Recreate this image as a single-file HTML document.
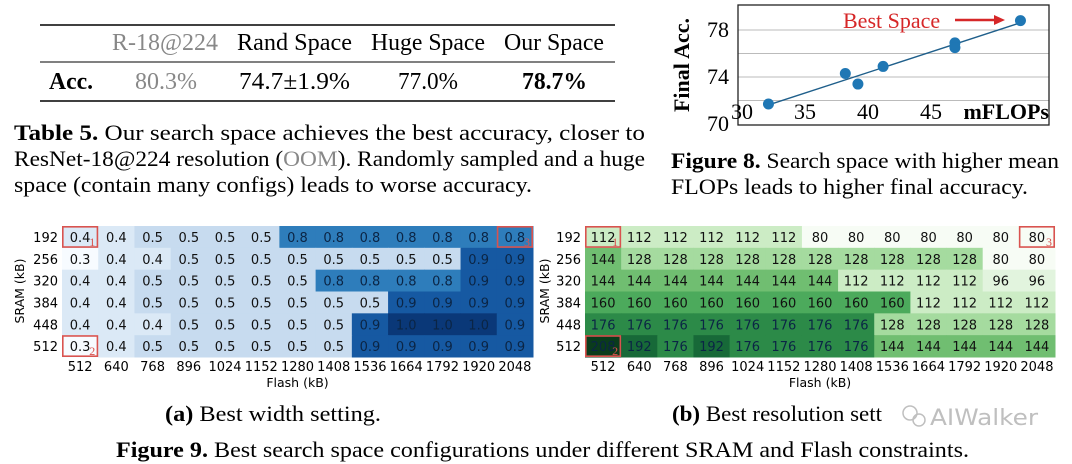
<!DOCTYPE html>
<html><head><meta charset="utf-8"><style>
html,body{margin:0;padding:0;background:#fff}
svg{display:block}
.serif{font-family:"Liberation Serif",serif}
.sans{font-family:"DejaVu Sans",sans-serif}
</style></head><body>
<svg id="root" width="1072" height="464" viewBox="0 0 1072 464" xmlns="http://www.w3.org/2000/svg">
<g class="serif" font-size="24">
<line x1="40" y1="25" x2="615" y2="25" stroke="#000" stroke-width="1.6"/>
<line x1="40" y1="62" x2="615" y2="62" stroke="#000" stroke-width="1"/>
<line x1="40" y1="101" x2="615" y2="101" stroke="#000" stroke-width="1.6"/>
<text x="112" y="50" fill="#888" textLength="106" lengthAdjust="spacingAndGlyphs">R-18@224</text>
<text x="237" y="50" textLength="115" lengthAdjust="spacingAndGlyphs">Rand Space</text>
<text x="371" y="50" textLength="114" lengthAdjust="spacingAndGlyphs">Huge Space</text>
<text x="504" y="50" textLength="100" lengthAdjust="spacingAndGlyphs">Our Space</text>
<text x="49" y="89" font-weight="bold" textLength="44" lengthAdjust="spacingAndGlyphs">Acc.</text>
<text x="135" y="89" fill="#888" textLength="62" lengthAdjust="spacingAndGlyphs">80.3%</text>
<text x="239" y="89" textLength="111" lengthAdjust="spacingAndGlyphs">74.7±1.9%</text>
<text x="398" y="89" textLength="60" lengthAdjust="spacingAndGlyphs">77.0%</text>
<text x="522" y="89" font-weight="bold" textLength="65" lengthAdjust="spacingAndGlyphs">78.7%</text>
</g>
<g class="serif" font-size="22">
<text x="14" y="140" textLength="631" lengthAdjust="spacingAndGlyphs"><tspan font-weight="bold">Table 5.</tspan> Our search space achieves the best accuracy, closer to</text>
<text x="14" y="166" textLength="631" lengthAdjust="spacingAndGlyphs">ResNet-18@224 resolution (<tspan fill="#888">OOM</tspan>). Randomly sampled and a huge</text>
<text x="14" y="192" textLength="518" lengthAdjust="spacingAndGlyphs">space (contain many configs) leads to worse accuracy.</text>
</g>
<g id="scatter"></g>
<g class="serif" font-size="22">
<text x="671" y="168" textLength="388" lengthAdjust="spacingAndGlyphs"><tspan font-weight="bold">Figure 8.</tspan> Search space with higher mean</text>
<text x="671" y="194" textLength="357" lengthAdjust="spacingAndGlyphs">FLOPs leads to higher final accuracy.</text>
</g>
<g id="hmA"></g>
<g id="hmB"></g>
<g class="serif" font-size="22">
<text x="165" y="421" textLength="216" lengthAdjust="spacingAndGlyphs"><tspan font-weight="bold">(a)</tspan> Best width setting.</text>
<text x="672" y="421" textLength="210" lengthAdjust="spacingAndGlyphs"><tspan font-weight="bold">(b)</tspan> Best resolution sett</text>
<text x="116" y="457" textLength="853" lengthAdjust="spacingAndGlyphs"><tspan font-weight="bold">Figure 9.</tspan> Best search space configurations under different SRAM and Flash constraints.</text>
</g>
<g opacity="0.75">
<circle cx="910" cy="413" r="7" fill="none" stroke="#aaa" stroke-width="1.5"/>
<circle cx="919" cy="420" r="6" fill="none" stroke="#aaa" stroke-width="1.5"/>
<text x="930" y="425" class="sans" font-size="22" fill="#aaa" textLength="108" lengthAdjust="spacingAndGlyphs">AIWalker</text>
</g>
</svg>
<script>
const NS='http://www.w3.org/2000/svg';
const flops=[32.1,38.2,39.2,41.2,46.9,46.9,52.1];
const accs=[71.7,74.3,73.4,74.9,76.9,76.5,78.8];
const xTicks=[30,35,40,45];
const yTicks=[70,74,78];
const gridVals=[72,74,76,78];
const flashLabels=['512','640','768','896','1024','1152','1280','1408','1536','1664','1792','1920','2048'];
const sramLabels=['192','256','320','384','448','512'];
const widthVals=[
[0.4,0.4,0.5,0.5,0.5,0.5,0.8,0.8,0.8,0.8,0.8,0.8,0.8],
[0.3,0.4,0.4,0.5,0.5,0.5,0.5,0.5,0.5,0.5,0.5,0.9,0.9],
[0.4,0.4,0.5,0.5,0.5,0.5,0.5,0.8,0.8,0.8,0.8,0.9,0.9],
[0.4,0.4,0.5,0.5,0.5,0.5,0.5,0.5,0.5,0.9,0.9,0.9,0.9],
[0.4,0.4,0.4,0.5,0.5,0.5,0.5,0.5,0.9,1.0,1.0,1.0,0.9],
[0.3,0.4,0.5,0.5,0.5,0.5,0.5,0.5,0.9,0.9,0.9,0.9,0.9]];
const resVals=[
[112,112,112,112,112,112,80,80,80,80,80,80,80],
[144,128,128,128,128,128,128,128,128,128,128,80,80],
[144,144,144,144,144,144,144,112,112,112,112,96,96],
[160,160,160,160,160,160,160,160,160,112,112,112,112],
[176,176,176,176,176,176,176,176,128,128,128,128,128],
[208,192,176,192,176,176,176,176,144,144,144,144,144]];
const boxedCells=[[0,0,'1'],[5,0,'2'],[0,12,'3']];

function mk(tag,attrs,parent,txt){const e=document.createElementNS(NS,tag);for(const k in attrs)e.setAttribute(k,attrs[k]);if(txt!==undefined)e.textContent=txt;parent.appendChild(e);return e;}

(function(){
const g=document.getElementById('scatter');
const X0=738,X1=1049,Y0=5,Y1=125;
const sx=v=>742+(v-30)*12.6, sy=v=>30+(78-v)*11.75;
gridVals.forEach(v=>{const l=mk('line',{x1:X0,x2:X1,y1:sy(v),y2:sy(v),stroke:'#bbb','stroke-width':1},g);});
const fr=mk('rect',{x:X0,y:Y0,width:X1-X0,height:Y1-Y0,fill:'none',stroke:'#222','stroke-width':1.3},g);

yTicks.forEach(v=>{const t=mk('text',{x:729,y:sy(v)+7,'text-anchor':'end','font-family':'Liberation Serif, serif','font-size':22},g,String(v));});
xTicks.forEach(v=>{const t=mk('text',{x:sx(v),y:119,'text-anchor':'middle','font-family':'Liberation Serif, serif','font-size':22},g,String(v));});
const xt=mk('text',{x:1049,y:119,'text-anchor':'end','font-family':'Liberation Serif, serif','font-size':22,'font-weight':'bold'},g,'mFLOPs');

const yt=mk('text',{x:0,y:0,transform:'translate(689,65) rotate(-90)','text-anchor':'middle','font-family':'Liberation Serif, serif','font-size':22,'font-weight':'bold'},g,'Final Acc.');

const n=flops.length,mx=flops.reduce((a,b)=>a+b)/n,my=accs.reduce((a,b)=>a+b)/n;
let sxy=0,sxx=0;for(let i=0;i<n;i++){sxy+=(flops[i]-mx)*(accs[i]-my);sxx+=(flops[i]-mx)**2;}
const b=sxy/sxx,a=my-b*mx,xmin=Math.min(...flops),xmax=Math.max(...flops);
const rl=mk('line',{x1:sx(xmin),y1:sy(a+b*xmin),x2:sx(xmax),y2:sy(a+b*xmax),stroke:'#1f5f8b','stroke-width':1.4},g);

flops.forEach((f,i)=>{const c=mk('circle',{cx:sx(f),cy:sy(accs[i]),r:5.5,fill:'#1f77b4'},g);});
const bs=mk('text',{x:843,y:28,'font-family':'Liberation Serif, serif','font-size':22,fill:'#d62728'},g,'Best Space');

const ar=mk('line',{x1:955,y1:20,x2:996,y2:20,stroke:'#d62728','stroke-width':2.5},g);

const ah=mk('polygon',{points:'994,15 1005,20 994,25',fill:'#d62728'},g);

})();

function lerpStops(stops,t){t=Math.max(0,Math.min(1,t));for(let i=1;i<stops.length;i++){if(t<=stops[i][0]){const s0=stops[i-1],s1=stops[i],u=(t-s0[0])/(s1[0]-s0[0]);const c=[0,1,2].map(k=>Math.round(s0[1][k]+(s1[1][k]-s0[1][k])*u));return 'rgb('+c.join(',')+')';}}return 'rgb('+stops[stops.length-1][1].join(',')+')';}
const BLUES=[[0,[247,251,255]],[0.14,[219,233,246]],[0.29,[198,219,239]],[0.71,[47,126,188]],[0.86,[22,88,162]],[1,[10,56,120]]];
const GREENS=[[0,[247,252,245]],[0.125,[226,244,222]],[0.25,[204,236,197]],[0.375,[165,219,159]],[0.5,[112,190,113]],[0.625,[76,170,92]],[0.75,[44,138,72]],[0.875,[23,105,56]],[1,[10,60,28]]];

function heat(gid,vals,left,right,stops,vmin,vmax,fmt,rowLabelX,sramX){
const g=document.getElementById(gid);
const top=226,bot=357,cw=(right-left)/13,ch=(bot-top)/6;
vals.forEach((row,r)=>row.forEach((v,c)=>{
 const t=(v-vmin)/(vmax-vmin);
 const rc=mk('rect',{x:left+c*cw,y:top+r*ch,width:cw+0.5,height:ch+0.5,fill:lerpStops(stops,t)},g);
 
 const tx=mk('text',{x:left+c*cw+cw/2,y:top+r*ch+ch/2+5,'text-anchor':'middle','font-family':'DejaVu Sans, sans-serif','font-size':13,fill:t>0.65?'#0b2545':'#111'},g,fmt(v));
 
}));
sramLabels.forEach((s,r)=>{const t=mk('text',{x:rowLabelX,y:top+r*ch+ch/2+5,'text-anchor':'end','font-family':'DejaVu Sans, sans-serif','font-size':13},g,s);});
flashLabels.forEach((s,c)=>{const t=mk('text',{x:left+c*cw+cw/2,y:371,'text-anchor':'middle','font-family':'DejaVu Sans, sans-serif','font-size':13},g,s);});
const fx=mk('text',{x:(left+right)/2,y:387,'text-anchor':'middle','font-family':'DejaVu Sans, sans-serif','font-size':12.5},g,'Flash (kB)');

const sy=mk('text',{x:0,y:0,transform:'translate('+sramX+',291) rotate(-90)','text-anchor':'middle','font-family':'DejaVu Sans, sans-serif','font-size':12.5},g,'SRAM (kB)');

boxedCells.forEach(([r,c,lab])=>{
 const b=mk('rect',{x:left+c*cw+0.8,y:top+r*ch+0.8,width:cw-1.6,height:ch-1.6,fill:'none',stroke:'#d9534f','stroke-width':1.6},g);
 
 const l=mk('text',{x:left+c*cw+cw-9,y:top+r*ch+ch-2,'font-family':'Liberation Serif, serif','font-size':12,fill:'#d9534f'},g,lab);
 
});
}
heat('hmA',widthVals,62,533,BLUES,0.3,1.0,v=>v.toFixed(1),58,24);
heat('hmB',resVals,585,1055,GREENS,80,208,v=>String(v),581,549);
</script>
</body></html>
